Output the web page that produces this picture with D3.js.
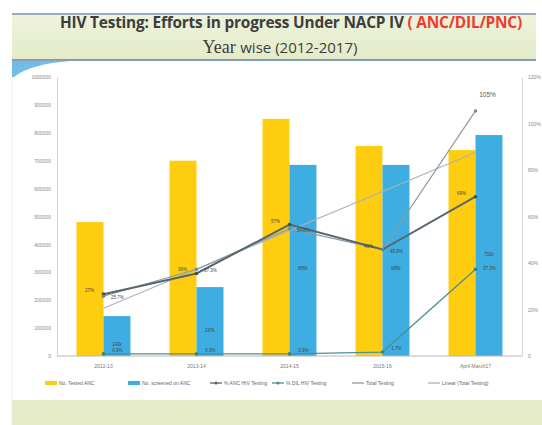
<!DOCTYPE html>
<html>
<head>
<meta charset="utf-8">
<script src="https://cdn.jsdelivr.net/npm/d3@7"></script>
<style>
  body { margin: 0; background: #fff; }
  svg { display: block; font-family: "Liberation Sans", Arial, sans-serif; }
</style>
</head>
<body>
<script>
// chart values
var years = ["2012-13", "2013-14", "2014-15", "2015-16", "April-March17"];
var testedANC = [480000, 700000, 850000, 753000, 738000];
var screenedANC = [143000, 247000, 685000, 685000, 792000];
var ancPct = [26.6, 35.5, 56.5, 45.8, 68.5];
var dilPct = [0.9, 0.9, 0.9, 1.7, 37.3];
var totalPct = [25.7, 37.3, 54.8, 45.8, 105.4];
var trendEnds = [20.5, 87.5];
var leftTicks = [0, 100000, 200000, 300000, 400000, 500000, 600000, 700000, 800000, 900000, 1000000];
var rightTicks = [0, 20, 40, 60, 80, 100, 120];
var legendNames = ["No. Tested ANC", "No. screened on ANC", "% ANC HIV Testing", "% DIL HIV Testing", "Total Testing", "Linear (Total Testing)"];

var W = 542, H = 425;
var svg = d3.select("body").append("svg").attr("width", W).attr("height", H);

// bottom green band
svg.append("rect").attr("x", 12).attr("y", 400).attr("width", 530).attr("height", 25).attr("fill", "#e6ecc9");
svg.append("line").attr("x1", 12).attr("x2", 12).attr("y1", 62).attr("y2", 425).attr("stroke", "#eef0e6");

// title box
var grad = svg.append("defs").append("linearGradient").attr("id", "tg").attr("x1", 0).attr("x2", 0).attr("y1", 0).attr("y2", 1);
grad.append("stop").attr("offset", "0%").attr("stop-color", "#eef3dc");
grad.append("stop").attr("offset", "100%").attr("stop-color", "#e3ebc8");
svg.append("rect").attr("x", 12).attr("y", 14).attr("width", 524).attr("height", 46).attr("fill", "url(#tg)");
svg.append("line").attr("x1", 12).attr("x2", 536).attr("y1", 14).attr("y2", 14).attr("stroke", "#7d95b3").attr("stroke-width", 1.5);
svg.append("line").attr("x1", 12).attr("x2", 536).attr("y1", 60).attr("y2", 60).attr("stroke", "#5f7fa8").attr("stroke-width", 1.5);

// blue swoosh under title
svg.append("path")
  .attr("d", "M12,61 L70,61 C45,63 25,68 14,77 L12,77 Z")
  .attr("fill", "#5ab0e0").attr("opacity", 0.85);

var t1 = svg.append("text").attr("x", 291).attr("y", 28).attr("text-anchor", "middle")
  .attr("font-family", "'Open Sans', sans-serif").attr("font-weight", "bold").attr("font-size", 15.4)
  .attr("letter-spacing", -0.2).attr("fill", "#3d3d3d");
t1.append("tspan").text("HIV Testing: Efforts in progress Under NACP IV ");
t1.append("tspan").attr("fill", "#ef3b2c").text("( ANC/DIL/PNC)");

var t2 = svg.append("text").attr("x", 280).attr("y", 53).attr("text-anchor", "middle").attr("fill", "#3d3d3d");
t2.append("tspan").attr("font-family", "'Liberation Serif', serif").attr("font-size", 18).text("Year ");
t2.append("tspan").attr("font-family", "'Open Sans', sans-serif").attr("font-size", 15).text("wise (2012-2017)");

// plot area
var pLeft = 57, pRight = 522, pTop = 77, pBottom = 356;
var x = d3.scaleBand().domain(years).range([pLeft, pRight]).paddingInner(0.42).paddingOuter(0.21);
var xs = d3.scaleBand().domain(["a", "b"]).range([0, x.bandwidth()]);
var yL = d3.scaleLinear().domain([0, 1000000]).range([pBottom, pTop]);
var yR = d3.scaleLinear().domain([0, 120]).range([pBottom, pTop]);
var cx = function(i) { return x(years[i]) + x.bandwidth() / 2; };

var axL = svg.append("g").attr("transform", "translate(" + pLeft + ",0)")
  .call(d3.axisLeft(yL).tickValues(leftTicks).tickSize(0).tickPadding(6).tickFormat(d3.format("d")));
var axR = svg.append("g").attr("transform", "translate(" + pRight + ",0)")
  .call(d3.axisRight(yR).tickValues(rightTicks).tickSize(0).tickPadding(6)
    .tickFormat(function(d) { return d === 0 ? "0" : d + "%"; }));
[axL, axR].forEach(function(a) {
  a.select(".domain").attr("stroke", "#d4d4d4");
  a.selectAll("text").attr("fill", "#888").attr("font-size", 5);
});

// bars
var groups = svg.append("g");
years.forEach(function(yr, i) {
  groups.append("rect").attr("x", x(yr) + xs("a")).attr("width", xs.bandwidth())
    .attr("y", yL(testedANC[i])).attr("height", pBottom - yL(testedANC[i])).attr("fill", "#ffcd0f");
  groups.append("rect").attr("x", x(yr) + xs("b")).attr("width", xs.bandwidth())
    .attr("y", yL(screenedANC[i])).attr("height", pBottom - yL(screenedANC[i])).attr("fill", "#3eaee2");
});

// baseline
svg.append("line").attr("x1", pLeft).attr("x2", pRight).attr("y1", pBottom).attr("y2", pBottom)
  .attr("stroke", "#b8b8b8").attr("stroke-width", 1);

// x labels
svg.selectAll(".xl").data(years).enter().append("text")
  .attr("x", function(d) { return x(d) + x.bandwidth() / 2; }).attr("y", 368)
  .attr("text-anchor", "middle").attr("font-size", 5).attr("fill", "#777").text(function(d) { return d; });

// lines
var line = d3.line().x(function(d, i) { return cx(i); }).y(function(d) { return yR(d); });
svg.append("line").attr("x1", cx(0)).attr("x2", cx(4)).attr("y1", yR(trendEnds[0])).attr("y2", yR(trendEnds[1]))
  .attr("stroke", "#a9b3ba").attr("stroke-width", 1.1);
svg.append("path").datum(totalPct).attr("d", line).attr("fill", "none").attr("stroke", "#8d9aa4").attr("stroke-width", 1.2);
svg.append("path").datum(dilPct).attr("d", line).attr("fill", "none").attr("stroke", "#4e8e92").attr("stroke-width", 1.3);
svg.append("path").datum(ancPct).attr("d", line).attr("fill", "none").attr("stroke", "#56666f").attr("stroke-width", 2);

[[ancPct, "#3f4f58"], [dilPct, "#3f7f80"], [totalPct, "#7a8894"]].forEach(function(s) {
  svg.append("g").selectAll("circle").data(s[0]).enter().append("circle")
    .attr("cx", function(d, i) { return cx(i); }).attr("cy", function(d) { return yR(d); })
    .attr("r", 1.8).attr("fill", s[1]);
});

// data labels (tiny, as on the slide)
var lab = svg.append("g").attr("font-size", 4.5).attr("fill", "#444");
ancPct.forEach(function(v, i) {
  lab.append("text").attr("x", cx(i) - 14).attr("y", yR(v) - 2).attr("text-anchor", "middle").text(Math.round(v) + "%");
});
totalPct.forEach(function(v, i) {
  if (i < 4) lab.append("text").attr("x", cx(i) + 14).attr("y", yR(v) + 3).attr("text-anchor", "middle").text(v.toFixed(1) + "%");
});
svg.append("text").attr("x", cx(4) + 12).attr("y", yR(totalPct[4]) - 14).attr("text-anchor", "middle")
  .attr("font-size", 6.5).attr("fill", "#555").text(Math.round(totalPct[4]) + "%");
dilPct.forEach(function(v, i) {
  lab.append("text").attr("x", cx(i) + 14).attr("y", yR(v) + (i < 4 ? -2 : 1)).attr("text-anchor", "middle").text(v.toFixed(1) + "%");
});
screenedANC.forEach(function(v, i) {
  lab.append("text").attr("x", x(years[i]) + xs("b") + xs.bandwidth() / 2)
    .attr("y", (yL(v) + pBottom) / 2 + 10).attr("text-anchor", "middle").text(Math.round(v / 1000) + "k");
});

// legend
var lg = svg.append("g").attr("font-size", 5).attr("fill", "#666");
var lx = [45, 128, 210, 272, 352, 428];
legendNames.forEach(function(n, i) {
  if (i < 2) {
    lg.append("rect").attr("x", lx[i]).attr("y", 381).attr("width", 12).attr("height", 4).attr("fill", i === 0 ? "#ffcd0f" : "#3eaee2");
  } else {
    var col = ["#56666f", "#4e8e92", "#8d9aa4", "#a9b3ba"][i - 2];
    lg.append("line").attr("x1", lx[i]).attr("x2", lx[i] + 12).attr("y1", 383).attr("y2", 383).attr("stroke", col).attr("stroke-width", 1.3);
    if (i < 4) lg.append("circle").attr("cx", lx[i] + 6).attr("cy", 383).attr("r", 1.6).attr("fill", col);
  }
  lg.append("text").attr("x", lx[i] + 14).attr("y", 385).text(n);
});
</script>
</body>
</html>
